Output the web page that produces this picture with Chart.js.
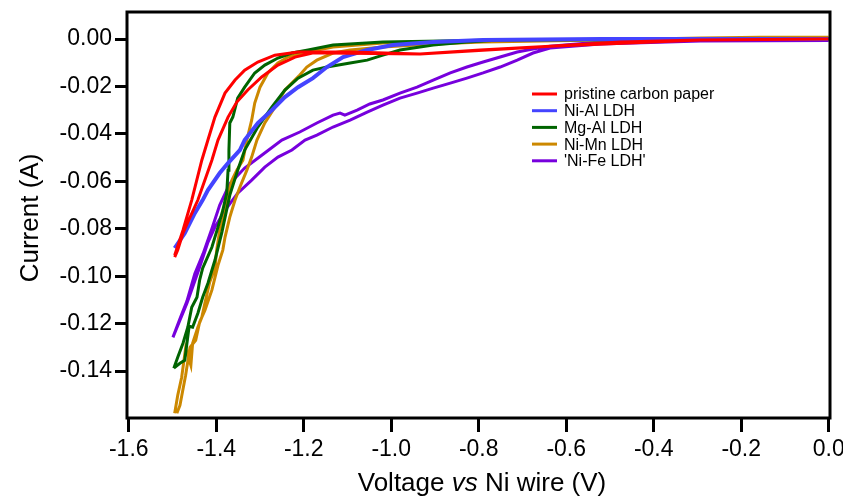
<!DOCTYPE html>
<html>
<head>
<meta charset="utf-8">
<script src="https://cdn.jsdelivr.net/npm/chart.js@4.4.1/dist/chart.umd.min.js"></script>
<style>
  html, body { margin: 0; padding: 0; background: #fff; }
  #wrap { width: 843px; height: 496px; }
</style>
</head>
<body>
<div id="wrap"><canvas id="chart" width="843" height="496"></canvas></div>
<script>
// voltage (V) and current (A) for each CV loop
const pristineV = [-1.495, -1.476, -1.456, -1.433, -1.419, -1.403, -1.380, -1.357, -1.335, -1.305, -1.266, -1.213, -1.094, -0.934, -0.797, -0.637, -0.476, -0.293, 0.0,
                   -0.293, -0.637, -0.934, -1.150, -1.180, -1.220, -1.259, -1.296, -1.328, -1.353, -1.373, -1.396, -1.410, -1.442, -1.465, -1.476, -1.488, -1.495];
const pristineI = [-0.0912, -0.0806, -0.0679, -0.0511, -0.0426, -0.0329, -0.0228, -0.0173, -0.0131, -0.0097, -0.0068, -0.0055, -0.0055, -0.0063, -0.0046, -0.0030, -0.0013, -0.0004, 0.0,
                   -0.0004, -0.0030, -0.0063, -0.0059, -0.0059, -0.0076, -0.0110, -0.0160, -0.0215, -0.0266, -0.0329, -0.0426, -0.0511, -0.0679, -0.0772, -0.0818, -0.0890, -0.0920];

const nialV = [-1.495, -1.472, -1.449, -1.431, -1.419, -1.392, -1.373, -1.346, -1.335, -1.305, -1.273, -1.243, -1.213, -1.179, -1.147, -1.110, -1.055, -0.996, -0.904, -0.790, -0.522, 0.0];
const nialI = [-0.0882, -0.0819, -0.0734, -0.0679, -0.0637, -0.0565, -0.0523, -0.0468, -0.0426, -0.0354, -0.0300, -0.0245, -0.0203, -0.0165, -0.0118, -0.0076, -0.0046, -0.0025, -0.0013, -0.0004, 0.0, 0.0];

const mgalV = [-1.497, -1.488, -1.476, -1.465, -1.456, -1.444, -1.438, -1.431, -1.410, -1.396, -1.385, -1.376, -1.373, -1.371, -1.369, -1.362, -1.351, -1.335, -1.312, -1.289, -1.259, -1.227, -1.190, -1.133, -1.019, -0.751, 0.0,
               -0.751, -0.827, -0.904, -0.980, -1.019, -1.055, -1.094, -1.147, -1.179, -1.213, -1.243, -1.273, -1.305, -1.335, -1.351, -1.369, -1.387, -1.403, -1.419, -1.431, -1.442, -1.454, -1.462, -1.472, -1.483, -1.497];
const mgalI = [-0.1388, -0.1342, -0.1283, -0.1215, -0.1131, -0.1089, -0.1017, -0.0966, -0.0878, -0.0793, -0.0722, -0.0650, -0.0553, -0.0468, -0.0354, -0.0329, -0.0249, -0.0203, -0.0143, -0.0110, -0.0080, -0.0059, -0.0046, -0.0025, -0.0013, -0.0004, 0.0,
               -0.0004, -0.0013, -0.0025, -0.0046, -0.0068, -0.0089, -0.0101, -0.0118, -0.0131, -0.0165, -0.0215, -0.0287, -0.0371, -0.0468, -0.0553, -0.0658, -0.0814, -0.0933, -0.1030, -0.1089, -0.1156, -0.1215, -0.1211, -0.1355, -0.1367, -0.1388];

const nimnV = [-1.495, -1.488, -1.479, -1.470, -1.458, -1.454, -1.442, -1.433, -1.426, -1.415, -1.403, -1.399, -1.392, -1.380, -1.373, -1.364, -1.353, -1.339, -1.330, -1.319, -1.312, -1.300, -1.282, -1.259, -1.236, -1.204, -1.133, -1.019, -0.865, -0.522, -0.293, -0.156, 0.0,
               -0.156, -0.522, -0.790, -0.904, -1.019, -1.094, -1.133, -1.170, -1.193, -1.209, -1.243, -1.266, -1.289, -1.307, -1.319, -1.330, -1.346, -1.357, -1.369, -1.380, -1.385, -1.396, -1.410, -1.426, -1.438, -1.447, -1.460, -1.470, -1.483, -1.490];
const nimnI = [-0.1578, -0.1502, -0.1426, -0.1304, -0.1376, -0.1283, -0.1215, -0.1173, -0.1114, -0.1025, -0.0966, -0.0890, -0.0806, -0.0734, -0.0650, -0.0595, -0.0553, -0.0511, -0.0426, -0.0342, -0.0270, -0.0203, -0.0143, -0.0101, -0.0076, -0.0059, -0.0034, -0.0017, -0.0013, -0.0004, 0.0004, 0.0008, 0.0008,
               0.0004, -0.0004, -0.0013, -0.0021, -0.0034, -0.0046, -0.0059, -0.0089, -0.0118, -0.0152, -0.0215, -0.0287, -0.0354, -0.0426, -0.0498, -0.0553, -0.0625, -0.0679, -0.0751, -0.0836, -0.0890, -0.0954, -0.1059, -0.1144, -0.1194, -0.1270, -0.1300, -0.1418, -0.1545, -0.1578];

const nifeV = [-1.499, -1.483, -1.467, -1.454, -1.438, -1.419, -1.403, -1.380, -1.351, -1.319, -1.289, -1.259, -1.227, -1.197, -1.170, -1.133, -1.094, -1.055, -1.019, -0.980, -0.941, -0.904, -0.865, -0.827, -0.790, -0.751, -0.712, -0.676, -0.637, -0.522, -0.293, 0.0,
               -0.293, -0.522, -0.637, -0.676, -0.712, -0.751, -0.790, -0.827, -0.865, -0.904, -0.941, -0.980, -1.019, -1.049, -1.078, -1.106, -1.117, -1.133, -1.170, -1.209, -1.250, -1.296, -1.335, -1.369, -1.392, -1.410, -1.430, -1.449, -1.467, -1.483, -1.499];
const nifeI = [-0.1258, -0.1186, -0.1114, -0.1047, -0.0962, -0.0857, -0.0793, -0.0722, -0.0650, -0.0595, -0.0540, -0.0498, -0.0468, -0.0426, -0.0405, -0.0371, -0.0342, -0.0308, -0.0279, -0.0249, -0.0228, -0.0207, -0.0186, -0.0165, -0.0143, -0.0118, -0.0089, -0.0059, -0.0038, -0.0021, -0.0008, -0.0006,
               -0.0004, -0.0013, -0.0030, -0.0042, -0.0055, -0.0076, -0.0097, -0.0118, -0.0143, -0.0173, -0.0203, -0.0228, -0.0257, -0.0274, -0.0300, -0.0321, -0.0312, -0.0321, -0.0354, -0.0392, -0.0426, -0.0490, -0.0544, -0.0610, -0.0700, -0.0800, -0.0905, -0.0990, -0.1105, -0.1180, -0.1258];

const seriesNames = ['pristine carbon paper', 'Ni-Al LDH', 'Mg-Al LDH', 'Ni-Mn LDH', "'Ni-Fe LDH'"];
const seriesColors = ['rgb(255,0,0)', 'rgb(68,68,255)', 'rgb(0,100,0)', 'rgb(204,136,0)', 'rgb(119,0,221)'];
const seriesWidths = [3, 4, 3, 3, 3];
const xTicks = [-1.6, -1.4, -1.2, -1.0, -0.8, -0.6, -0.4, -0.2, 0.0];
const yTicks = [0.0, -0.02, -0.04, -0.06, -0.08, -0.10, -0.12, -0.14];

function pts(vs, is) {
    return vs.map((v, k) => ({x: v, y: is[k]}));
}
const allV = [pristineV, nialV, mgalV, nimnV, nifeV];
const allI = [pristineI, nialI, mgalI, nimnI, nifeI];

const FONT = '"Liberation Sans", Arial, Helvetica, sans-serif';

function noPad(s) {
    s.paddingLeft = 0; s.paddingRight = 0; s.paddingTop = 0; s.paddingBottom = 0;
}

// frame, axis titles and legend
const decor = {
    id: 'decor',
    afterDraw(chart) {
        const c = chart.ctx, a = chart.chartArea;
        c.save();
        c.strokeStyle = '#000';
        c.lineWidth = 3;
        c.strokeRect(a.left, a.top, a.right - a.left, a.bottom - a.top);

        // x title with italic "vs"
        const parts = [['Voltage ', 'normal'], ['vs', 'italic'], [' Ni wire (V)', 'normal']];
        let w = 0;
        parts.forEach(p => { c.font = p[1] + ' 26px ' + FONT; w += c.measureText(p[0]).width; });
        let x = 482 - w / 2;
        c.fillStyle = '#000';
        c.textBaseline = 'alphabetic';
        c.textAlign = 'left';
        parts.forEach(p => {
            c.font = p[1] + ' 26px ' + FONT;
            c.fillText(p[0], x, 491);
            x += c.measureText(p[0]).width;
        });

        // y title
        c.save();
        c.translate(38, 218);
        c.rotate(-Math.PI / 2);
        c.font = '26px ' + FONT;
        c.textAlign = 'center';
        c.fillText('Current (A)', 0, 0);
        c.restore();

        // legend
        c.font = '16px ' + FONT;
        c.textBaseline = 'middle';
        chart.data.datasets.forEach((ds, k) => {
            const yy = 94 + k * 16.7;
            c.strokeStyle = ds.borderColor;
            c.lineWidth = 3;
            c.beginPath();
            c.moveTo(532, yy);
            c.lineTo(557, yy);
            c.stroke();
            c.fillStyle = '#000';
            c.fillText(ds.label, 564, yy + 1);
        });
        c.restore();
    }
};

new Chart(document.getElementById('chart'), {
    type: 'scatter',
    data: {
        datasets: seriesNames.map((n, k) => ({
            label: n,
            data: pts(allV[k], allI[k]),
            showLine: true,
            borderColor: seriesColors[k],
            backgroundColor: seriesColors[k],
            borderWidth: seriesWidths[k],
            pointRadius: 0,
            tension: 0
        }))
    },
    options: {
        responsive: false,
        animation: false,
        layout: { padding: { top: 12, right: 13, left: 0, bottom: 0 } },
        plugins: { legend: { display: false }, tooltip: { enabled: false } },
        scales: {
            x: {
                type: 'linear',
                min: -1.604,
                max: 0.003,
                afterBuildTicks: s => { s.ticks = xTicks.map(v => ({value: v})); },
                afterFit: s => { s.height = 78; noPad(s); },
                grid: { drawOnChartArea: false, drawTicks: true, tickLength: 14, tickWidth: 3, tickColor: '#000' },
                border: { display: false },
                ticks: {
                    color: '#000', padding: 4, maxRotation: 0, autoSkip: false,
                    font: { family: FONT, size: 23 },
                    callback: v => v.toFixed(1)
                }
            },
            y: {
                type: 'linear',
                min: -0.1598,
                max: 0.0114,
                afterBuildTicks: s => { s.ticks = yTicks.map(v => ({value: v})); },
                afterFit: s => { s.width = 127; noPad(s); },
                grid: { drawOnChartArea: false, drawTicks: true, tickLength: 12, tickWidth: 3, tickColor: '#000' },
                border: { display: false },
                ticks: {
                    color: '#000', padding: 3, autoSkip: false,
                    font: { family: FONT, size: 23 },
                    callback: v => (Math.abs(v) < 1e-9 ? 0 : v).toFixed(2)
                }
            }
        }
    },
    plugins: [decor]
});
</script>
</body>
</html>
